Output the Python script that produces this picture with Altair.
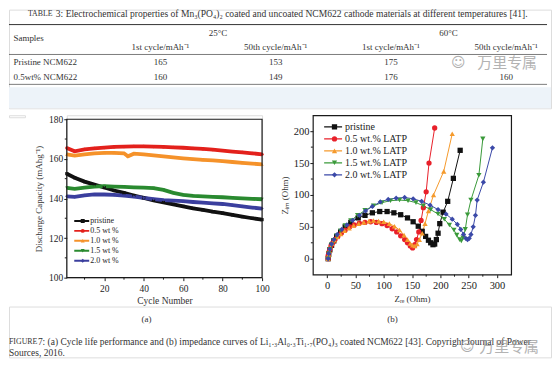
import altair as alt
import pandas as pd

SERIF = "Liberation Serif"
CJK = "Noto Sans CJK SC"
INK = "#1a1a1a"
GREY = "#333333"

# ---------------- table ----------------
table_caps = "TABLE"
table_title = "3: Electrochemical properties of Mn₃(PO₄)₂ coated and uncoated NCM622 cathode materials at different temperatures [41]."
group_headers = ["25°C", "60°C"]
group_cols = [1.5, 3.5]
sub_headers = ["1st cycle/mAh⁻¹", "50th cycle/mAh⁻¹", "1st cycle/mAh⁻¹", "50th cycle/mAh⁻¹"]
sample_header = "Samples"
sample_names = ["Pristine NCM622", "0.5wt% NCM622"]
pristine_row = ["165", "153", "175", ""]
coated_row = ["160", "149", "176", "160"]
watermark = "万里专属"

# ---------------- caption ----------------
fig_caps = "FIGURE"
fig_line1 = "7: (a) Cycle life performance and (b) impedance curves of Li₁.₃Al₀.₃Ti₁.₇(PO₄)₃ coated NCM622 [43]. Copyright Journal of Power"
fig_line2 = "Sources, 2016."
panel_labels = ["(a)", "(b)"]

# ---------------- (a) cycle life ----------------
left_names = ["pristine", "0.5 wt %", "1.0 wt %", "1.5 wt %", "2.0 wt %"]
left_colors = ["#111111", "#e3211c", "#f5922a", "#2a8a30", "#3b3f9e"]
cycles = [1, 5, 10, 15, 20, 25, 30, 35, 40, 45, 50, 55, 60, 65, 70, 75, 80, 85, 90, 95, 100]
cycles_10 = [1, 5, 10, 15, 20, 25, 30, 32, 35, 40, 45, 50, 55, 60, 65, 70, 75, 80, 85, 90, 95, 100]
cap_pristine = [152.5, 150.5, 148.5, 147, 145.5, 144, 142.8, 141.5, 140.3, 139, 138, 137, 136, 135, 134.2, 133.3, 132.6, 131.7, 130.8, 130, 129.3]
cap_05 = [165.5, 163.8, 164.8, 165.3, 165.7, 166, 166.2, 166.3, 166.3, 166.2, 166, 165.8, 165.6, 165.3, 165, 164.6, 164.2, 163.7, 163.3, 162.8, 162.3]
cap_10 = [162.2, 161.6, 162.3, 162.8, 163, 163, 162.8, 161.3, 162.6, 162.2, 161.7, 161.2, 160.7, 160.2, 159.8, 159.5, 159.2, 158.8, 158.4, 158, 157.6, 157.2]
cap_15 = [145.3, 144.8, 145.5, 146, 146.2, 146, 145.8, 145.6, 145.5, 145.2, 144.3, 142.8, 141.8, 141.3, 141, 140.8, 140.6, 140.3, 140, 139.8, 139.6]
cap_20 = [141.1, 140.8, 141.6, 142, 142, 141.8, 141.4, 140.9, 140.3, 139.7, 139.2, 138.9, 138.6, 138.2, 137.9, 137.5, 137.2, 136.6, 136, 135.4, 134.9]
left_x_ticks = [20, 40, 60, 80, 100]
left_x_minor = [10, 30, 50, 70, 90]
left_y_ticks = [100, 120, 140, 160, 180]
left_y_minor = [110, 130, 150, 170]

# ---------------- (b) impedance ----------------
right_names = ["pristine", "0.5 wt.% LATP", "1.0 wt.% LATP", "1.5 wt.% LATP", "2.0 wt.% LATP"]
right_colors = ["#111111", "#e8202a", "#f59a2c", "#3a9a3a", "#3b49a8"]
shapes = ["square", "circle", "triangle-up", "triangle-down", "diamond"]
keys = ["k0", "k1", "k2", "k3", "k4"]
pristine_re = [2, 3, 5, 8, 12, 17, 24, 32, 42, 55, 67, 80, 93, 106, 118, 130, 142, 152, 161, 168, 174, 179, 183, 187, 190, 193, 196, 199, 205, 213, 223, 235]
pristine_im = [0, 7, 14, 21, 28, 35, 42, 50, 57, 64, 68, 72, 74, 74, 72, 69, 64, 58, 51, 43, 35, 29, 25, 22, 23, 30, 40, 55, 73, 90, 126, 170]
latp05_re = [2, 2, 3, 5, 7, 10, 14, 19, 25, 32, 40, 48, 57, 67, 77, 87, 97, 106, 115, 123, 130, 137, 142, 147, 151, 155, 158, 162, 166, 170, 175, 180, 190]
latp05_im = [0, 5, 10, 15, 20, 25, 30, 35, 40, 45, 50, 53, 56, 57, 58, 57, 55, 52, 47, 42, 36, 30, 25, 20, 17, 22, 30, 42, 60, 80, 105, 150, 205]
latp10_re = [2, 3, 4, 6, 9, 13, 18, 24, 31, 39, 47, 56, 65, 74, 82, 91, 100, 110, 119, 128, 136, 142, 147, 151, 155, 159, 163, 168, 173, 179, 188, 206, 221]
latp10_im = [0, 6, 12, 18, 24, 29, 34, 39, 44, 48, 52, 55, 57, 59, 60, 59, 58, 55, 51, 45, 37, 30, 24, 21, 20, 23, 30, 40, 55, 75, 100, 137, 196]
latp15_re = [2, 3, 5, 8, 12, 17, 24, 32, 42, 54, 67, 82, 97, 112, 128, 143, 157, 170, 183, 196, 207, 216, 224, 229, 234, 237, 240, 244, 248, 254, 268, 275]
latp15_im = [0, 8, 15, 22, 29, 36, 44, 52, 60, 68, 76, 83, 88, 91, 92, 91, 88, 83, 77, 70, 62, 53, 45, 37, 30, 28, 33, 46, 69, 92, 131, 188]
latp20_re = [2, 3, 5, 8, 12, 18, 26, 35, 45, 57, 68, 80, 94, 108, 122, 137, 152, 167, 182, 196, 210, 221, 230, 236, 241, 245, 248, 251, 254, 258, 262, 265, 276, 292]
latp20_im = [0, 8, 15, 23, 30, 38, 46, 53, 60, 68, 75, 82, 89, 93, 95, 96, 94, 90, 84, 77, 70, 62, 54, 46, 38, 32, 30, 32, 38, 50, 68, 92, 120, 174]
right_x_ticks = [0, 50, 100, 150, 200, 250, 300]
right_x_minor = [25, 75, 125, 175, 225, 275]
right_y_ticks = [0, 50, 100, 150, 200]
right_y_minor = [25, 75, 125, 175]


def long_frame(names, xs_list, ys_list, xname, yname):
    rows = []
    for i, (n, xs, ys) in enumerate(zip(names, xs_list, ys_list)):
        for j, (a, b) in enumerate(zip(xs, ys)):
            rows.append({"series": n, "key": keys[i], "idx": j, xname: a, yname: b})
    return pd.DataFrame(rows)


def one_text(text, x, y, size, align="left", font=SERIF, color=GREY, opacity=1.0):
    return alt.Chart(pd.DataFrame({"t": [text]})).mark_text(
        align=align, baseline="middle", font=font, fontSize=size, color=color, opacity=opacity
    ).encode(text="t:N", x=alt.value(x), y=alt.value(y))


def hrule(y, x1, x2, width=0.9, color="#444444"):
    return alt.Chart(pd.DataFrame({"v": [0]})).mark_rule(color=color, strokeWidth=width).encode(
        x=alt.value(x1), x2=alt.value(x2), y=alt.value(y))


def make_axis(values, title, lsize, tsize, tpad, lpad=3, tick=3):
    return alt.Axis(values=values, title=title, grid=False, domain=False, ticks=True, tickSize=tick,
                    tickColor=INK, tickWidth=1, labelFont=SERIF, labelFontSize=lsize, labelColor=INK,
                    labelPadding=lpad, labelFlush=False, labelOverlap=False, titleFont=SERIF,
                    titleFontSize=tsize, titleFontWeight="normal", titleColor=GREY, titlePadding=tpad)


def stroke_legend(x, y, size, sw, fs, ch, lo):
    return alt.Legend(orient="none", legendX=x, legendY=y, direction="vertical", title=None,
                      symbolType="stroke", symbolSize=size, symbolStrokeWidth=sw, labelFont=SERIF,
                      labelFontSize=fs, labelColor=INK, labelOffset=lo, clipHeight=ch, rowPadding=0,
                      padding=0, labelLimit=300, zindex=1)


def shape_legend(x, y, size, fs, ch, off):
    return alt.Legend(orient="none", legendX=x, legendY=y, direction="vertical", title=None,
                      symbolSize=size, symbolOffset=off, symbolStrokeWidth=0, labelExpr="''",
                      labelFontSize=fs, clipHeight=ch, rowPadding=0, padding=0, zindex=2)


def minor_y(values, enc_y_field, y_scale, y_axis):
    return alt.Chart(pd.DataFrame({enc_y_field: values})).mark_rule(color=INK, strokeWidth=1).encode(
        y=alt.Y(f"{enc_y_field}:Q", scale=y_scale, axis=y_axis), x=alt.value(-2), x2=alt.value(0))


def minor_x(values, enc_x_field, x_scale, x_axis, h):
    return alt.Chart(pd.DataFrame({enc_x_field: values})).mark_rule(color=INK, strokeWidth=1).encode(
        x=alt.X(f"{enc_x_field}:Q", scale=x_scale, axis=x_axis), y=alt.value(h), y2=alt.value(h + 2))


dot = pd.DataFrame({"v": [0]})


def lift(dy):
    # invisible guide that reserves a little room above a panel
    return alt.Chart(dot).mark_rule(opacity=0, strokeWidth=0.5).encode(
        x=alt.value(0), x2=alt.value(10), y=alt.value(-dy))


# ================= table chart =================
cells = []
for c, t in zip(group_cols, group_headers):
    cells.append({"col": c, "row": 0, "text": t})
for i, t in enumerate(sub_headers):
    cells.append({"col": i + 1, "row": 1, "text": t})
for r, vals in enumerate([pristine_row, coated_row]):
    for i, t in enumerate(vals):
        cells.append({"col": i + 1, "row": r + 2, "text": t})
label_cells = [{"row": 0.35, "text": sample_header}] + [
    {"row": r + 2, "text": n} for r, n in enumerate(sample_names)]

col_scale = alt.Scale(domain=[1, 4], range=[152, 499], zero=False, nice=False)
row_scale = alt.Scale(domain=[0, 3], range=[23, 68], zero=False, nice=False)

band = alt.Chart(dot).mark_rect(color="#edf3f9").encode(
    x=alt.value(0), x2=alt.value(544), y=alt.value(78), y2=alt.value(99))

value_layer = alt.Chart(pd.DataFrame(cells)).mark_text(
    align="center", baseline="middle", font=SERIF, fontSize=9, color=GREY).encode(
    x=alt.X("col:Q", scale=col_scale, axis=None), y=alt.Y("row:Q", scale=row_scale, axis=None), text="text:N")
label_layer = alt.Chart(pd.DataFrame(label_cells)).mark_text(
    align="left", baseline="middle", font=SERIF, fontSize=9, color=GREY).encode(
    x=alt.value(4.5), y=alt.Y("row:Q", scale=row_scale, axis=None), text="text:N")

table = alt.layer(
    band,
    hrule(15, 0, 540, 1.0, "#333333"), hrule(45, 0, 540, 0.7), hrule(75, 0, 540, 0.7),
    one_text(table_caps, 19, 4.8, 7.9),
    one_text(table_title, 47, 4.8, 9.6),
    label_layer, value_layer,
    one_text("☺", 451, 54, 14, align="center", font="DejaVu Sans", color="#9a9a9a", opacity=0.8),
    one_text(watermark, 470, 54, 15, font=CJK, color="#9a9a9a", opacity=0.75),
).properties(width=544, height=99)

# ================= (a) cycle life =================
LW, LH, LTOP = 196, 163, 4      # panel (a) sits 4px lower than panel (b)
df_left = long_frame(left_names, [cycles, cycles, cycles_10, cycles, cycles],
                     [cap_pristine, cap_05, cap_10, cap_15, cap_20], "cycle", "cap")
lx_scale = alt.Scale(domain=[1, 100], nice=False, zero=False)
ly_scale = alt.Scale(domain=[100, 180], range=[LH, LTOP], nice=False, zero=False)
lx_axis = make_axis(left_x_ticks, "Cycle Number", 9.5, 9.5, 2)
ly_axis = make_axis(left_y_ticks, "Discharge Capacity (mAhg⁻¹)", 9.5, 9, 5, lpad=1)
lx = alt.X("cycle:Q", scale=lx_scale, axis=lx_axis)
ly = alt.Y("cap:Q", scale=ly_scale, axis=ly_axis)
left_lines = alt.Chart(df_left).mark_line(strokeWidth=3.8).encode(
    x=lx, y=ly, order=alt.Order("idx:Q"),
    color=alt.Color("series:N", scale=alt.Scale(domain=left_names, range=left_colors),
                    legend=stroke_legend(6.5, 97.2 + LTOP, 225, 2, 8, 9.7, 0)))
lleg = shape_legend(6.5, 97.2 + LTOP, 16, 8, 9.7, 5.5)
left_points = alt.Chart(df_left).mark_point(filled=True, size=10, opacity=1).encode(
    x=lx, y=ly,
    fill=alt.Fill("key:N", scale=alt.Scale(domain=keys, range=left_colors), legend=lleg),
    shape=alt.Shape("key:N", scale=alt.Scale(domain=keys, range=shapes), legend=lleg))
left_frame = alt.Chart(dot).mark_rect(filled=False, stroke=INK, strokeWidth=1.2).encode(
    x=alt.value(0), x2=alt.value(LW), y=alt.value(LTOP), y2=alt.value(LH))
left = alt.layer(
    left_lines, left_points,
    minor_y(left_y_minor, "cap", ly_scale, ly_axis),
    minor_x(left_x_minor, "cycle", lx_scale, lx_axis, LH),
    left_frame,
).properties(width=LW, height=LH)

# ================= (b) impedance =================
df_right = long_frame(right_names, [pristine_re, latp05_re, latp10_re, latp15_re, latp20_re],
                      [pristine_im, latp05_im, latp10_im, latp15_im, latp20_im], "zre", "zim")
rx_scale = alt.Scale(domain=[-25, 325], nice=False, zero=False)
ry_scale = alt.Scale(domain=[-25, 225], nice=False, zero=False)
rx_axis = make_axis(right_x_ticks, "Zᵣₑ (Ohm)", 10.5, 9, 3)
ry_axis = make_axis(right_y_ticks, "Zᵢₘ (Ohm)", 10.5, 9, 4, lpad=1)
rx = alt.X("zre:Q", scale=rx_scale, axis=rx_axis)
ry = alt.Y("zim:Q", scale=ry_scale, axis=ry_axis)
RW, RH = 199, 160
right_lines = alt.Chart(df_right).mark_line(strokeWidth=1).encode(
    x=rx, y=ry, order=alt.Order("idx:Q"),
    color=alt.Color("series:N", scale=alt.Scale(domain=right_names, range=right_colors),
                    legend=stroke_legend(10.3, 6, 324, 1.3, 10, 11.5, 2)))
rleg = shape_legend(10.3, 6, 28, 10, 11.5, 6.4)
right_points = alt.Chart(df_right).mark_point(filled=True, size=28, opacity=1).encode(
    x=rx, y=ry,
    fill=alt.Fill("key:N", scale=alt.Scale(domain=keys, range=right_colors), legend=rleg),
    shape=alt.Shape("key:N", scale=alt.Scale(domain=keys, range=shapes), legend=rleg))
right = alt.layer(
    right_lines, right_points,
    minor_y(right_y_minor, "zim", ry_scale, ry_axis),
    minor_x(right_x_minor, "zre", rx_scale, rx_axis, RH),
    lift(4.5),
).properties(width=RW, height=RH, view=alt.ViewBackground(stroke=INK, strokeWidth=1.2))

# ================= caption chart =================
caption = alt.layer(
    one_text(panel_labels[0], 138, 12.5, 9, align="center"),
    one_text(panel_labels[1], 385, 12.5, 9, align="center"),
    one_text(fig_caps, 0, 35.5, 7.9),
    one_text(fig_line1, 29, 35.5, 9.5),
    one_text(fig_line2, 0, 46.5, 9.5),
    one_text("☺", 460, 40.5, 14, align="center", font="DejaVu Sans", color="#9a9a9a", opacity=0.8),
    one_text(watermark, 472, 40.5, 15, font=CJK, color="#9a9a9a", opacity=0.75),
).properties(width=544, height=51)

# ================= assemble =================
spacer_h = alt.Chart(dot).mark_rule(opacity=0, strokeWidth=0.5).encode(
    x=alt.value(0), x2=alt.value(16), y=alt.value(1)).properties(width=16, height=2)
row = alt.concat(spacer_h, left, right, columns=3, spacing=8, align="none").resolve_scale(
    color="independent", fill="independent", shape="independent")

chart = alt.vconcat(table, row, caption, spacing=0, padding=0).configure_view(
    stroke=None).configure(background="white")

chart.save("out.html", embed_options={"renderer": "svg", "actions": False})
